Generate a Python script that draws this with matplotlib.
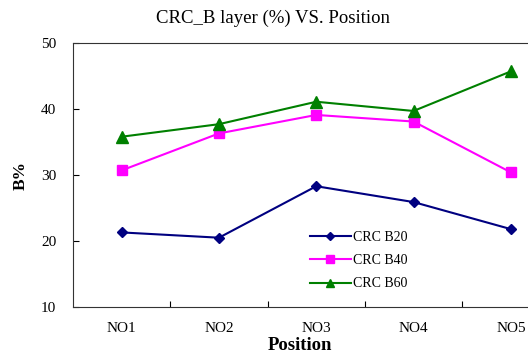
import matplotlib
matplotlib.use("Agg")
import matplotlib.pyplot as plt

positions = ["NO1", "NO2", "NO3", "NO4", "NO5"]
b20 = [21.3, 20.5, 28.3, 25.9, 21.8]
b40 = [30.7, 36.3, 39.1, 38.1, 30.4]
b60 = [35.8, 37.7, 41.1, 39.7, 45.7]
series_names = ["CRC B20", "CRC B40", "CRC B60"]

plt.rcParams['font.family'] = ['Liberation Serif', 'DejaVu Serif']

W, H = 528, 358
fig = plt.figure(figsize=(W / 100, H / 100), dpi=100)
left, right, top, bottom = 73, 559.5, 43, 307
ax = fig.add_axes([left / W, 1 - bottom / H, (right - left) / W, (bottom - top) / H])

x = list(range(len(positions)))
ax.plot(x, b20, color="#000080", marker="D", markersize=5.5, linewidth=1.5, label=series_names[0])
ax.plot(x, b40, color="#FF00FF", marker="s", markersize=7.5, linewidth=1.5, label=series_names[1])
ax.plot(x, b60, color="#008000", marker="^", markersize=8, linewidth=1.5, label=series_names[2])

ax.set_xlim(-0.5, len(positions) - 0.5)
ax.set_ylim(10, 50)
ax.set_yticks([10, 20, 30, 40, 50])
ax.set_xticks(x)
ax.set_xticklabels(positions, fontsize=11)
ax.set_xticks([i + 0.5 for i in range(len(positions) - 1)], minor=True)
ax.tick_params(axis='x', which='major', length=0, pad=11)
ax.tick_params(axis='x', which='minor', direction='in', length=4, width=0.8)
ax.tick_params(axis='y', direction='in', length=4, width=0.8, labelsize=11, pad=12)

for s in ax.spines.values():
    s.set_linewidth(0.8)
    s.set_color("#333333")

fig.text(300 / W, 1 - 345 / H, "Position", ha='center', va='center',
         fontsize=13.5, fontweight='bold')
fig.text(21 / W, 1 - 176 / H, "B%", ha='center', va='center', rotation=90,
         fontsize=12.5, fontweight='bold')
fig.text(273 / W, 1 - 18 / H, "CRC_B layer (%) VS. Position",
         ha='center', va='center', fontsize=13.5)

leg = ax.legend(loc='upper left', bbox_to_anchor=((304 - left) / (right - left), 1 - (225 - top) / (bottom - top)),
                frameon=False, fontsize=10, handlelength=3.0, handletextpad=0.15,
                labelspacing=0.75, borderaxespad=0, markerscale=0.75)

fig.savefig("out.png", dpi=100)
